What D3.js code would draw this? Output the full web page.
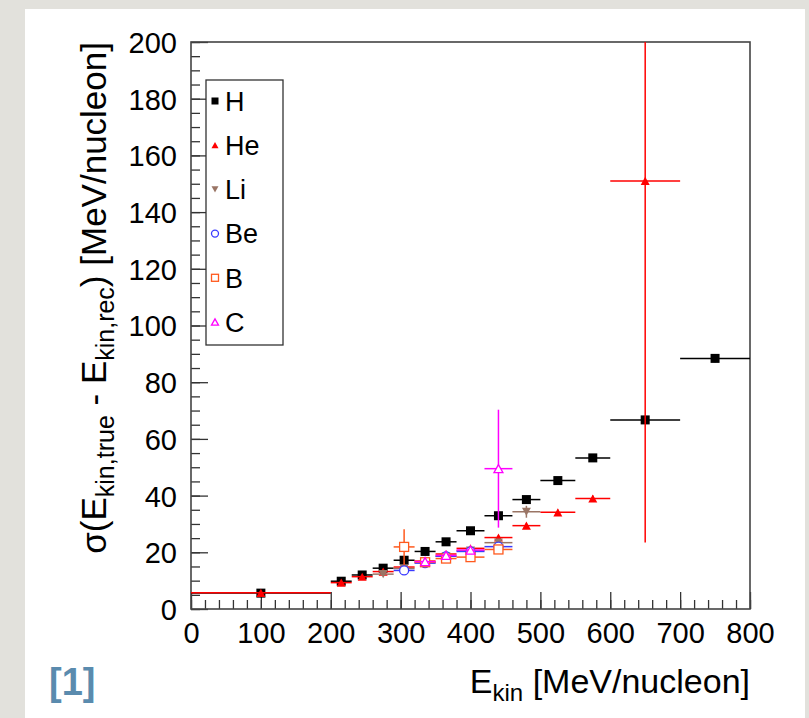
<!DOCTYPE html>
<html>
<head>
<meta charset="utf-8">
<script src="https://cdn.jsdelivr.net/npm/d3@7"></script>
<style>
  html, body { margin: 0; padding: 0; background: #e2e1dc; }
  svg { display: block; font-family: "Liberation Sans", Arial, sans-serif; }
</style>
</head>
<body>
<div id="plot"></div>
<script>
// Bin centres and half-widths (MeV/nucleon)
var binCenters = [100, 215, 245, 275, 305, 335, 365, 400, 440, 480, 525, 575, 650, 750];
var binHalfWidths = [100, 15, 15, 15, 15, 15, 15, 20, 20, 20, 25, 25, 50, 50];

// sigma values per element, one per bin (null = no point)
var valuesH  = [5.6, 9.8, 12.0, 14.4, 17.2, 20.3, 23.7, 27.6, 32.9, 38.6, 45.3, 53.3, 66.7, 88.4];
var valuesHe = [5.7, 9.3, 11.4, 13.2, 14.8, 16.9, 19.4, 21.4, 25.2, 29.4, 34.1, 39.0, 151, null];
var valuesLi = [null, null, null, 12.3, 14.3, 16.3, 18.6, 20.6, 23.4, 34.3, null, null, null, null];
var valuesBe = [null, null, null, null, 13.6, 16.2, 18.6, 20.3, 22.0, null, null, null, null, null];
var valuesB  = [null, null, null, null, 21.9, 16.5, 17.8, 18.3, 21.0, null, null, null, null, null];
var valuesC  = [null, null, null, null, null, 16.7, 18.9, 20.8, 49.5, null, null, null, null, null];

// vertical errors
var errH  = [0.4, 0.4, 0.4, 0.4, 0.5, 0.5, 0.5, 0.6, 0.7, 0.8, 0.9, 1.0, 1.2, 1.4];
var errHe = [0.4, 0.4, 0.4, 0.4, 0.5, 0.5, 0.5, 0.6, 0.7, 0.8, 0.9, 1.0, 127.5, null];
var errLi = [null, null, null, 0.6, 0.6, 0.6, 0.7, 0.8, 1.0, 2.1, null, null, null, null];
var errBe = [null, null, null, null, 0.5, 0.5, 0.6, 0.7, 0.8, null, null, null, null, null];
var errB  = [null, null, null, null, 6.2, 0.6, 0.7, 0.8, 1.0, null, null, null, null, null];
var errC  = [null, null, null, null, null, 0.7, 0.8, 0.9, 20.8, null, null, null, null, null];

var elements = ["H", "He", "Li", "Be", "B", "C"];
var elementColors = ["#000000", "#ff0000", "#9a7565", "#3a3aff", "#ff5a1e", "#ff00ff"];
var elementMarkers = ["squareFull", "triUp", "triDown", "circleOpen", "squareOpen", "triUpOpen"];

var xTicks = [0, 100, 200, 300, 400, 500, 600, 700, 800];
var yTicks = [0, 20, 40, 60, 80, 100, 120, 140, 160, 180, 200];

var allValues = [valuesH, valuesHe, valuesLi, valuesBe, valuesB, valuesC];
var allErrors = [errH, errHe, errLi, errBe, errB, errC];

var svgWidth = 809, svgHeight = 718;
var frame = { left: 191, right: 750, top: 42, bottom: 609 };

var svg = d3.select("#plot").append("svg")
  .attr("width", svgWidth)
  .attr("height", svgHeight);

// white panel on grey background
svg.append("rect")
  .attr("x", 25).attr("y", 9)
  .attr("width", 780).attr("height", 720)
  .attr("fill", "#ffffff");

var x = d3.scaleLinear().domain([0, 800]).range([frame.left, frame.right]);
var y = d3.scaleLinear().domain([0, 200]).range([frame.bottom, frame.top]);

svg.append("defs").append("clipPath").attr("id", "frameClip")
  .append("rect")
  .attr("x", frame.left).attr("y", frame.top)
  .attr("width", frame.right - frame.left).attr("height", frame.bottom - frame.top);

// minor ticks
svg.append("g")
  .attr("transform", `translate(0, ${frame.bottom})`)
  .call(d3.axisBottom(x).tickValues(d3.range(0, 801, 20)).tickSize(-9).tickFormat(""))
  .call(g => g.select(".domain").remove());
svg.append("g")
  .attr("transform", `translate(${frame.left}, 0)`)
  .call(d3.axisLeft(y).tickValues(d3.range(0, 201, 5)).tickSize(-9).tickFormat(""))
  .call(g => g.select(".domain").remove());

// major ticks and labels
var xAxis = svg.append("g")
  .attr("transform", `translate(0, ${frame.bottom})`)
  .call(d3.axisBottom(x).tickValues(xTicks).tickSize(-17).tickPadding(8).tickFormat(d3.format("d")));
xAxis.select(".domain").remove();

var yAxis = svg.append("g")
  .attr("transform", `translate(${frame.left}, 0)`)
  .call(d3.axisLeft(y).tickValues(yTicks).tickSize(-17).tickPadding(14).tickFormat(d3.format("d")));
yAxis.select(".domain").remove();

svg.selectAll(".tick line").attr("stroke", "#333").attr("stroke-width", 1.3);
svg.selectAll(".tick text")
  .attr("font-size", 29)
  .attr("font-family", "Liberation Sans, Arial, sans-serif")
  .attr("fill", "#000");
xAxis.selectAll(".tick text").attr("dy", "0.88em");
yAxis.selectAll(".tick text").attr("dy", "0.36em");

// frame
svg.append("rect")
  .attr("x", frame.left).attr("y", frame.top)
  .attr("width", frame.right - frame.left).attr("height", frame.bottom - frame.top)
  .attr("fill", "none").attr("stroke", "#444").attr("stroke-width", 1.6);

// markers
function drawMarker(g, type, cx, cy, s, color) {
  if (type === "squareFull" || type === "squareOpen") {
    g.append("rect")
      .attr("x", cx - s / 2).attr("y", cy - s / 2)
      .attr("width", s).attr("height", s)
      .attr("fill", type === "squareFull" ? color : "#fff")
      .attr("stroke", color).attr("stroke-width", type === "squareFull" ? 0 : 1.3);
  } else if (type === "circleOpen") {
    g.append("circle").attr("cx", cx).attr("cy", cy).attr("r", s / 2)
      .attr("fill", "#fff").attr("stroke", color).attr("stroke-width", 1.3);
  } else {
    var h = s * 0.9;
    var dir = type === "triDown" ? -1 : 1;
    var pts = [[cx, cy - dir * h / 2], [cx - s / 2, cy + dir * h / 2], [cx + s / 2, cy + dir * h / 2]];
    g.append("path")
      .attr("d", d3.line()(pts) + "Z")
      .attr("fill", type === "triUpOpen" ? "#fff" : color)
      .attr("stroke", color).attr("stroke-width", type === "triUpOpen" ? 1.3 : 0);
  }
}

var plot = svg.append("g").attr("clip-path", "url(#frameClip)");

elements.forEach(function(el, i) {
  var g = plot.append("g").attr("class", "series-" + el);
  var vals = allValues[i], errs = allErrors[i], color = elementColors[i];
  vals.forEach(function(v, k) {
    if (v === null) return;
    var e = errs[k] || 0;
    g.append("line")
      .attr("x1", x(binCenters[k] - binHalfWidths[k])).attr("x2", x(binCenters[k] + binHalfWidths[k]))
      .attr("y1", y(v)).attr("y2", y(v))
      .attr("stroke", color).attr("stroke-width", 1.5);
    g.append("line")
      .attr("x1", x(binCenters[k])).attr("x2", x(binCenters[k]))
      .attr("y1", y(v - e)).attr("y2", y(v + e))
      .attr("stroke", color).attr("stroke-width", 1.5);
    drawMarker(g, elementMarkers[i], x(binCenters[k]), y(v), 9, color);
  });
});

// legend
var legend = svg.append("g");
legend.append("rect")
  .attr("x", 206).attr("y", 80).attr("width", 77).attr("height", 265)
  .attr("fill", "#fff").attr("stroke", "#333").attr("stroke-width", 1.3);
elements.forEach(function(el, i) {
  var ly = 101 + i * 44.2;
  drawMarker(legend, elementMarkers[i], 215, ly, 7, elementColors[i]);
  legend.append("text")
    .attr("x", 225).attr("y", ly).attr("dy", "0.36em")
    .attr("font-size", 27).attr("fill", "#000")
    .text(el);
});

// axis titles
var xt = svg.append("text")
  .attr("x", frame.right).attr("y", 693)
  .attr("text-anchor", "end").attr("font-size", 34).attr("fill", "#000");
xt.append("tspan").text("E");
xt.append("tspan").attr("font-size", 24).attr("dy", 8).text("kin");
xt.append("tspan").attr("dy", -8).text(" [MeV/nucleon]");

var yt = svg.append("text")
  .attr("transform", `translate(106, ${frame.top}) rotate(-90)`)
  .attr("text-anchor", "end").attr("font-size", 35).attr("fill", "#000");
yt.append("tspan").text("σ(E");
yt.append("tspan").attr("font-size", 25).attr("dy", 8).text("kin,true");
yt.append("tspan").attr("dy", -8).text(" - E");
yt.append("tspan").attr("font-size", 25).attr("dy", 8).text("kin,rec");
yt.append("tspan").attr("dy", -8).text(") [MeV/nucleon]");

// reference tag
svg.append("text")
  .attr("x", 49).attr("y", 695)
  .attr("font-size", 38).attr("font-weight", "bold").attr("fill", "#5a8bae")
  .text("[1]");
</script>
</body>
</html>
